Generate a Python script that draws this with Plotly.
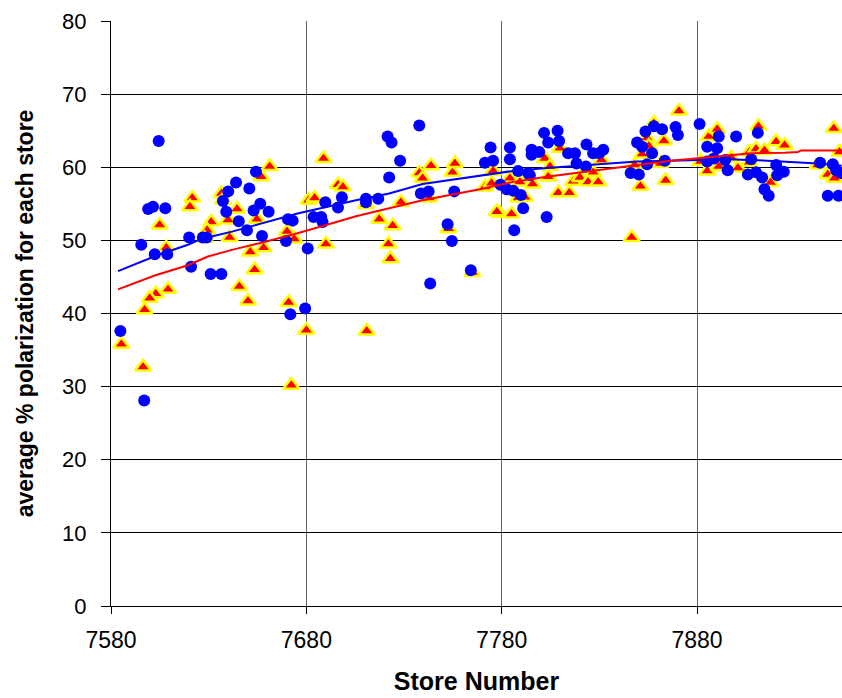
import plotly.graph_objects as go

# ---------------- data ----------------
circle_x = [7604.4, 7599.0, 7601.5, 7607.8, 7595.5, 7602.4, 7608.8, 7620.0, 7627.0, 7629.0,
            7621.0, 7631.0, 7636.5, 7584.8, 7597.0, 7637.3, 7640.0, 7639.0, 7644.0,
            7654.2, 7650.8, 7656.4, 7653.0, 7660.7, 7645.4, 7649.6, 7657.3, 7670.6, 7673.0,
            7669.6, 7680.7, 7683.7, 7687.6, 7688.3, 7689.7, 7696.2, 7698.2, 7671.8, 7679.4,
            7737.8, 7721.6, 7723.6, 7728.0, 7722.4, 7710.5, 7710.5, 7716.8, 7738.6, 7742.6,
            7755.7, 7752.3, 7754.5, 7764.2, 7743.4,
            7774.3, 7784.2, 7784.2, 7771.4, 7775.6, 7801.7, 7808.6, 7803.8, 7809.4, 7795.3,
            7799.2, 7795.3, 7814.0, 7817.5, 7823.4, 7826.8, 7829.9, 7832.0, 7788.4, 7793.5,
            7794.4, 7818.3, 7823.1, 7779.4, 7782.5, 7785.9, 7789.8, 7791.0, 7803.0, 7786.4,
            7849.3, 7851.9, 7853.6, 7857.9, 7862.1, 7869.0, 7870.2, 7881.3, 7857.0, 7854.4,
            7846.0, 7850.2, 7863.5, 7885.2, 7891.1, 7890.3, 7888.6, 7885.2, 7895.7, 7894.4,
            7900.0, 7911.1, 7907.7, 7906.0, 7910.2, 7913.3, 7920.5, 7924.4, 7921.0, 7914.5,
            7916.7, 7943.0, 7949.5, 7951.2, 7953.7, 7946.9, 7952.4]
circle_y = [63.6, 54.3, 54.6, 54.4, 49.4, 48.1, 48.1, 50.4, 50.4, 50.4,
            46.4, 45.4, 45.4, 37.6, 28.1, 55.4, 56.7, 53.9, 57.9,
            59.4, 57.1, 55.0, 54.1, 53.9, 52.6, 51.4, 50.6, 52.9, 52.7,
            49.9, 48.9, 53.2, 53.2, 52.5, 55.2, 54.5, 55.9, 39.9, 40.7,
            65.7, 64.2, 63.4, 60.9, 58.6, 55.7, 55.2, 55.7, 56.4, 56.7,
            56.7, 52.2, 49.9, 45.9, 44.1,
            62.7, 62.7, 61.1, 60.6, 60.9, 64.7, 65.0, 63.4, 63.6, 62.4,
            62.1, 61.7, 61.9, 61.9, 63.1, 61.9, 61.9, 62.4, 59.5, 59.2,
            58.9, 60.5, 60.1, 57.6, 57.0, 56.8, 56.2, 54.4, 53.2, 51.4,
            63.4, 62.8, 64.9, 65.6, 65.2, 65.5, 64.4, 65.9, 61.9, 60.4,
            59.2, 59.0, 60.9, 62.8, 64.2, 62.6, 61.2, 60.8, 59.6, 61.0,
            64.2, 64.7, 61.1, 59.0, 59.3, 58.6, 60.3, 59.4, 58.9, 57.0,
            56.1, 60.6, 60.4, 59.6, 59.2, 56.1, 56.1]

triangle_x = [7621.6, 7620.4, 7604.9, 7608.3, 7631.3, 7629.2, 7627.9, 7636.5, 7637.3, 7639.9,
              7640.7, 7602.9, 7599.8, 7597.2, 7609.2, 7585.3, 7596.4,
              7661.2, 7656.9, 7688.8, 7644.5, 7654.7, 7651.3, 7658.1, 7653.5, 7645.7, 7650.1,
              7670.1, 7673.8, 7670.9, 7680.0, 7672.3, 7681.1, 7684.2, 7690.0, 7696.2, 7698.7,
              7710.5, 7717.3, 7724.2, 7722.0, 7723.0, 7728.4, 7737.8, 7739.5, 7743.8, 7742.9,
              7754.8, 7756.0, 7752.8, 7765.0, 7710.9,
              7775.6, 7771.4, 7774.8, 7779.0, 7777.5, 7785.0, 7784.2, 7789.3, 7795.8, 7788.4,
              7791.9, 7802.1, 7804.7, 7803.8, 7809.8, 7808.9, 7814.6, 7816.6, 7820.0, 7824.2,
              7829.4, 7826.8, 7831.1,
              7870.7, 7857.9, 7854.4, 7855.3, 7851.9, 7863.0, 7848.0, 7851.0, 7863.9, 7861.3,
              7846.5, 7886.0, 7890.3, 7881.8, 7885.2, 7891.1,
              7911.4, 7906.8, 7910.2, 7914.5, 7920.5, 7924.8, 7906.8, 7900.9, 7917.6, 7897.5,
              7950.0, 7952.9, 7941.8, 7946.9, 7950.3]
triangle_y = [55.8, 54.6, 52.1, 49.0, 52.5, 51.4, 50.3, 56.4, 55.5, 52.8,
              50.4, 42.7, 42.1, 40.5, 43.3, 35.8, 32.7,
              60.1, 58.7, 61.2, 54.3, 52.9, 48.4, 49.0, 46.0, 43.7, 41.7,
              51.2, 50.2, 41.5, 37.7, 30.2, 55.5, 55.8, 49.5, 57.6, 57.3,
              54.9, 52.9, 52.0, 49.5, 47.5, 55.2, 59.2, 58.5, 60.2, 55.8,
              59.3, 60.5, 51.6, 45.6, 37.6,
              59.5, 57.3, 57.8, 53.7, 53.9, 53.6, 58.5, 58.0, 57.7, 55.8,
              55.9, 61.2, 60.1, 58.7, 62.6, 56.5, 56.5, 58.1, 58.6, 58.0,
              58.0, 59.3, 61.0,
              67.7, 66.0, 64.0, 62.9, 61.8, 63.6, 60.3, 57.4, 58.2, 60.5,
              50.4, 64.2, 65.2, 60.8, 59.5, 60.1,
              65.6, 62.1, 62.5, 62.3, 63.5, 63.0, 60.7, 59.9, 57.9, 61.3,
              65.3, 62.1, 60.3, 59.0, 58.5]

blue_trend_x = [7583.6, 7595.5, 7604.0, 7619.4, 7626.2, 7641.9, 7659.0, 7676.0, 7705.4,
                7722.4, 7739.5, 7768.8, 7785.9, 7803.0, 7832.3, 7849.3, 7866.4, 7895.7,
                7916.2, 7933.3, 7941.8, 7954.0]
blue_trend_y = [45.8, 47.1, 48.0, 49.4, 50.2, 51.2, 52.5, 53.7, 55.5,
                56.4, 57.7, 58.8, 59.5, 59.9, 60.5, 60.8, 60.9, 61.1,
                60.9, 60.7, 60.5, 60.2]

red_trend_x = [7583.6, 7590.4, 7602.4, 7619.4, 7629.6, 7641.9, 7659.0, 7676.0, 7705.4,
               7722.4, 7739.5, 7768.8, 7785.9, 7803.0, 7832.3, 7849.3, 7866.4, 7895.7,
               7907.7, 7924.8, 7931.6, 7933.3, 7954.0]
red_trend_y = [43.3, 44.0, 45.2, 46.6, 47.8, 48.7, 49.8, 51.0, 53.3,
               54.4, 55.5, 57.0, 58.0, 58.7, 59.7, 60.3, 60.9, 61.6,
               61.9, 62.0, 62.1, 62.3, 62.3]

x_tick_vals = [7580, 7680, 7780, 7880]
x_tick_text = ["7580", "7680", "7780", "7880"]
y_tick_vals = [0, 10, 20, 30, 40, 50, 60, 70, 80]

FONT = "Liberation Sans, Arial, sans-serif"

# ---------------- figure ----------------
fig = go.Figure()

fig.add_trace(go.Scatter(
    x=triangle_x, y=triangle_y, mode="markers", name="triangles",
    marker=dict(symbol="triangle-up", size=14, color="#FF0000",
                line=dict(color="#FFFF00", width=2.5)),
))
fig.add_trace(go.Scatter(
    x=circle_x, y=circle_y, mode="markers", name="circles",
    marker=dict(symbol="circle", size=12, color="#0000FF",
                line=dict(color="#0000FF", width=0)),
))
fig.add_trace(go.Scatter(
    x=blue_trend_x, y=blue_trend_y, mode="lines", name="blue trend",
    line=dict(color="#0000FF", width=2),
))
fig.add_trace(go.Scatter(
    x=red_trend_x, y=red_trend_y, mode="lines", name="red trend",
    line=dict(color="#FF0000", width=2),
))

fig.update_layout(
    width=842, height=698,
    margin=dict(l=111, r=0, t=21, b=92, pad=0),
    paper_bgcolor="white", plot_bgcolor="white",
    showlegend=False,
    font=dict(family=FONT, color="black"),
)

fig.update_xaxes(
    range=[7580, 7954.2],
    tickmode="array", tickvals=x_tick_vals, ticktext=x_tick_text,
    showgrid=True, gridcolor="#606060", gridwidth=1,
    showline=True, linecolor="black", linewidth=1,
    ticks="outside", ticklen=7, tickcolor="black", tickwidth=1,
    zeroline=False,
    tickfont=dict(family=FONT, size=23, color="black"),
    ticklabelstandoff=6,
    title=dict(text="Store Number",
               font=dict(family=FONT, size=25, color="black", weight="bold"),
               standoff=20),
)
fig.update_yaxes(
    range=[0, 80],
    tickmode="array", tickvals=y_tick_vals,
    showgrid=True, gridcolor="black", gridwidth=1,
    showline=True, linecolor="black", linewidth=1,
    ticks="outside", ticklen=9, tickcolor="black", tickwidth=1,
    zeroline=False,
    tickfont=dict(family=FONT, size=22, color="black"),
    ticklabelstandoff=10,
    title=dict(text="average % polarization for each store",
               font=dict(family=FONT, size=23, color="black", weight="bold"),
               standoff=22),
)

fig.write_html("out.html")
